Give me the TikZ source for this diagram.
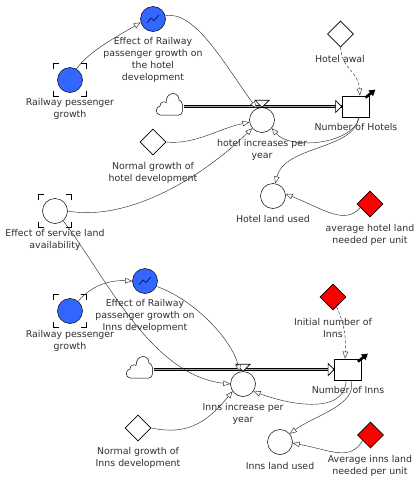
\documentclass[tikz,border=0pt]{standalone}
\usepackage{fontspec}
\setmainfont{DejaVu Sans}
\usetikzlibrary{shapes.geometric,arrows.meta,calc}
\definecolor{vblue}{HTML}{3366FF}
\definecolor{ink}{HTML}{303030}
\tikzset{
 aux/.style={circle,draw,line width=.5pt,inner sep=0pt,minimum size=25pt,fill=white},
 auxb/.style={aux,fill=vblue},
 const/.style={diamond,draw,line width=.6pt,inner sep=0pt,minimum width=26pt,minimum height=26pt,fill=white},
 constr/.style={const,fill=red},
 stock/.style={rectangle,draw,line width=.8pt,inner sep=0pt,minimum width=27pt,minimum height=21pt,fill=white},
 cloudbox/.style={rectangle,inner sep=0pt,minimum width=27pt,minimum height=22pt},
 lbl/.style={align=center,inner sep=0pt,text=ink,font=\fontsize{9.4}{12}\selectfont},
 link/.style={line width=.45pt,draw=ink,-{Triangle[open,length=7pt,width=5.5pt,fill=white]}},
 dlink/.style={link,densely dashed},
 flowout/.style={line width=3.6pt,black},
 flowin/.style={line width=.8pt,black!35},
 cornermark/.style={line width=.8pt,black},
 stockarrow/.style={line width=2.6pt,black,-{Triangle[length=6pt,width=7pt]}},
}
\newcommand{\cornersat}[1]{%
 \foreach \sx/\sy in {-1/-1,1/-1,1/1,-1/1}{%
  \draw[cornermark,shift={(#1)}] (\sx*16.5,\sy*11)--(\sx*16.5,\sy*16.5)--(\sx*11,\sy*16.5);}}
\newcommand{\cloudat}[1]{%
 \draw[line width=.5pt,fill=white,shift={(#1)}] (-9.5,11) .. controls (-15,11) and (-15,2.5) .. (-10,2)
  .. controls (-10,-2) and (-6,-3) .. (-4,-1.5) .. controls (-4,-13) and (9,-13) .. (9,-4)
  .. controls (14,-3) and (14,11) .. (9,11) -- cycle;}
\newcommand{\squiggle}[1]{%
 \draw[line width=.5pt,black,shift={(#1)}] (-6,4)--(-2,-1)--(1,1.5)--(6,-4);}
\begin{document}
\begin{tikzpicture}[x=1pt,y=-1pt]
\useasboundingbox (0,0) rectangle (419,480);
\fill[white] (0,0) rectangle (419,480);
% ---- top nodes
\node[auxb] (hrail) at (70,80) {};
\node[auxb] (heff) at (153,19) {};
\node[cloudbox] (hcloud) at (170,104) {};
\node[const] (hnorm) at (153,142) {};
\node[aux] (serv) at (55,211) {};
\node[aux] (hrate) at (262,120) {};
\node[stock] (hbox) at (355.5,106.5) {};
\node[const] (hawal) at (340.5,34) {};
\node[aux] (hland) at (273,196) {};
\node[constr] (havg) at (370,204) {};
% ---- bottom nodes
\node[auxb] (irail) at (70,311) {};
\node[auxb] (ieff) at (145,281) {};
\node[cloudbox] (icloud) at (140,367) {};
\node[const] (inorm) at (138,428) {};
\node[aux] (irate) at (243,384) {};
\node[stock] (ibox) at (348,369.5) {};
\node[constr] (iinit) at (333,297) {};
\node[aux] (iland) at (280,442) {};
\node[constr] (iavg) at (370.5,435) {};
% ---- decorations on nodes
\cornersat{70,80}\cornersat{55,211}\cornersat{70,311}
\squiggle{153,19}\squiggle{145,281}
\cloudat{hcloud.center}\cloudat{icloud.center}
% ---- flows
\draw[flowout] (hcloud.east |- hbox.west) -- (hbox.west);
\draw[flowin] (hcloud.east |- hbox.west) -- (hbox.west);
\draw[flowout] (icloud.east |- ibox.west) -- (ibox.west);
\draw[flowin] (icloud.east |- ibox.west) -- (ibox.west);
\draw[line width=.7pt,fill=white] (hbox.west) -- ++(-6,-6) -- ++(0,12) -- cycle;
\draw[line width=.7pt,fill=white] (ibox.west) -- ++(-6,-6) -- ++(0,12) -- cycle;
\draw[line width=.7pt,fill=white] (hrate.north) -- ++(-7,-7) -- ++(14,0) -- cycle;
\draw[line width=.7pt,fill=white] (irate.north) -- ++(-7,-7) -- ++(14,0) -- cycle;
\draw[stockarrow] (hbox.north east) ++(-4,2) -- ++(10,-8);
\draw[stockarrow] (ibox.north east) ++(-4,3) -- ++(10,-8);
% ---- top connectors
\draw[link] (hrail.60) .. controls (90,50) and (120,35) .. (heff.195);
\draw[link] (heff.15) .. controls (195,10) and (225,65) .. (hrate.115);
\draw[link] (hnorm.east) .. controls (195,145) and (220,128) .. (hrate.190);
\draw[link] (serv.east) .. controls (130,222) and (205,175) .. (hrate.220);
\draw[link] (hbox.-70) .. controls (352,145) and (290,150) .. (hrate.-40);
\draw[link] (hbox.-75) .. controls (355,150) and (285,145) .. (hland.80);
\draw[link] (havg.200) .. controls (345,225) and (325,210) .. (hland.10);
\draw[dlink] (hawal.south) .. controls (342,70) and (358,70) .. (hbox.68);
% ---- bottom connectors
\draw[link] (irail.50) .. controls (92,285) and (110,280) .. (ieff.180);
\draw[link] (ieff.-25) .. controls (195,300) and (232,340) .. (irate.105);
\draw[link] (serv.-50) .. controls (105,275) and (150,375) .. (irate.180);
\draw[link] (inorm.east) .. controls (185,435) and (205,425) .. (irate.215);
\draw[link] (ibox.-100) .. controls (345,415) and (290,405) .. (irate.-35);
\draw[link] (ibox.-75) .. controls (358,405) and (315,415) .. (iland.40);
\draw[link] (iavg.215) .. controls (350,462) and (330,450) .. (iland.-5);
\draw[dlink] (iinit.-70) .. controls (345,325) and (346,340) .. (ibox.105);
% ---- labels
\node[lbl] (l1) at (153,60) {Effect of Railway\\passenger growth on\\the hotel\\development};
\node[lbl] (l2) at (70,109) {Railway pessenger\\growth};
\node[lbl] (l3) at (153,173) {Normal growth of\\hotel development};
\node[lbl] (l4) at (55,240) {Effect of service land\\availability};
\node[lbl] (l5) at (262,150) {hotel increases per\\year};
\node[lbl] (l6) at (356,127) {Number of Hotels};
\node[lbl] (l7) at (340,59) {Hotel awal};
\node[lbl] (l8) at (273,219) {Hotel land used};
\node[lbl] (l9) at (370,235) {average hotel land\\needed per unit};
\node[lbl] (l10) at (145,316) {Effect of Railway\\passenger growth on\\Inns development};
\node[lbl] (l11) at (70,341) {Railway pessenger\\growth};
\node[lbl] (l12) at (138,458) {Normal growth of\\Inns development};
\node[lbl] (l13) at (243,414) {Inns increase per\\year};
\node[lbl] (l14) at (348,390) {Number of Inns};
\node[lbl] (l15) at (333,328) {Initial number of\\Inns};
\node[lbl] (l16) at (280,466) {Inns land used};
\node[lbl] (l17) at (370,466) {Average inns land\\needed per unit};
\end{tikzpicture}
\end{document}
